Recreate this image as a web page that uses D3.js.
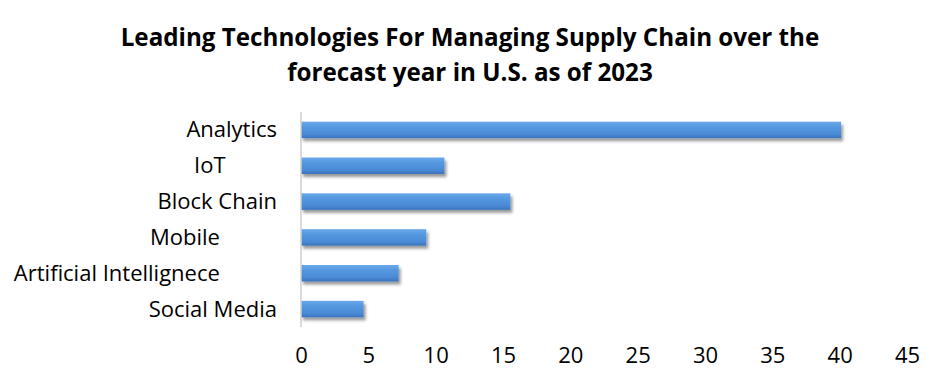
<!DOCTYPE html>
<html><head><meta charset="utf-8">
<script src="https://cdn.jsdelivr.net/npm/d3@7"></script>
<style>body{margin:0;background:#fff}svg{display:block}</style>
</head><body>
<svg id="c" width="940" height="386"></svg>
<script>
const titleLines = ["Leading Technologies For Managing Supply Chain over the", "forecast year in U.S. as of 2023"];
const categories = ["Analytics", "IoT", "Block Chain", "Mobile", "Artificial Intellignece", "Social Media"];
// trailing spaces as they appear in the source labels
const trailingSpaces = [0, 9, 0, 10, 10, 0];
const values = [40.1, 10.65, 15.55, 9.3, 7.25, 4.65];
const ticks = [0, 5, 10, 15, 20, 25, 30, 35, 40, 45];

const svg = d3.select("#c");
const font = "'Open Sans', sans-serif";
const m = {left: 301, right: 907, top: 112, bottom: 327};

const x = d3.scaleLinear().domain([0, 45]).range([m.left, m.right]);
const y = d3.scaleBand().domain(categories).range([m.top, m.bottom]).paddingInner(0.54).paddingOuter(0.27);

const defs = svg.append("defs");
const g = defs.append("linearGradient").attr("id", "bg").attr("x1", 0).attr("y1", 0).attr("x2", 0).attr("y2", 1);
g.append("stop").attr("offset", "0%").attr("stop-color", "#6aa8ea");
g.append("stop").attr("offset", "30%").attr("stop-color", "#5599e0");
g.append("stop").attr("offset", "75%").attr("stop-color", "#4a8ad6");
g.append("stop").attr("offset", "100%").attr("stop-color", "#3a74bd");
const f = defs.append("filter").attr("id", "sh").attr("x", "-5%").attr("y", "-50%").attr("width", "115%").attr("height", "220%");
f.append("feDropShadow").attr("dx", 2).attr("dy", 3).attr("stdDeviation", 1.6).attr("flood-color", "#000").attr("flood-opacity", 0.4);

svg.append("g").attr("font-family", font).attr("font-weight", 700).attr("font-size", 24.2)
  .attr("text-anchor", "middle").attr("fill", "#000")
  .selectAll("text").data(titleLines).join("text")
  .attr("x", 470).attr("y", (d, i) => 46 + i * 35).text(d => d);

svg.append("g").selectAll("rect").data(values).join("rect")
  .attr("x", x(0)).attr("y", (d, i) => y(categories[i]))
  .attr("width", d => x(d) - x(0)).attr("height", y.bandwidth())
  .attr("fill", "url(#bg)").attr("filter", "url(#sh)");

svg.append("line").attr("x1", x(0)).attr("x2", x(0)).attr("y1", m.top).attr("y2", m.bottom)
  .attr("stroke", "#cfcfcf").attr("stroke-width", 1.5);

const yAxis = d3.axisLeft(y).tickSize(0).tickPadding(24)
  .tickFormat((d, i) => d + "\u00a0".repeat(trailingSpaces[i]));
const ya = svg.append("g").attr("transform", `translate(${x(0)},0)`).call(yAxis);
ya.select(".domain").remove();
ya.selectAll("text").attr("font-family", font).attr("font-size", 22).attr("fill", "#000").attr("dy", "0.34em");

const xAxis = d3.axisBottom(x).tickValues(ticks).tickSize(0).tickPadding(0).tickFormat(d3.format("d"));
const xa = svg.append("g").attr("transform", `translate(0,${m.bottom})`).call(xAxis);
xa.select(".domain").remove();
xa.selectAll("text").attr("font-family", font).attr("font-size", 22).attr("fill", "#000").attr("dy", "1.62em");
</script>
</body></html>
